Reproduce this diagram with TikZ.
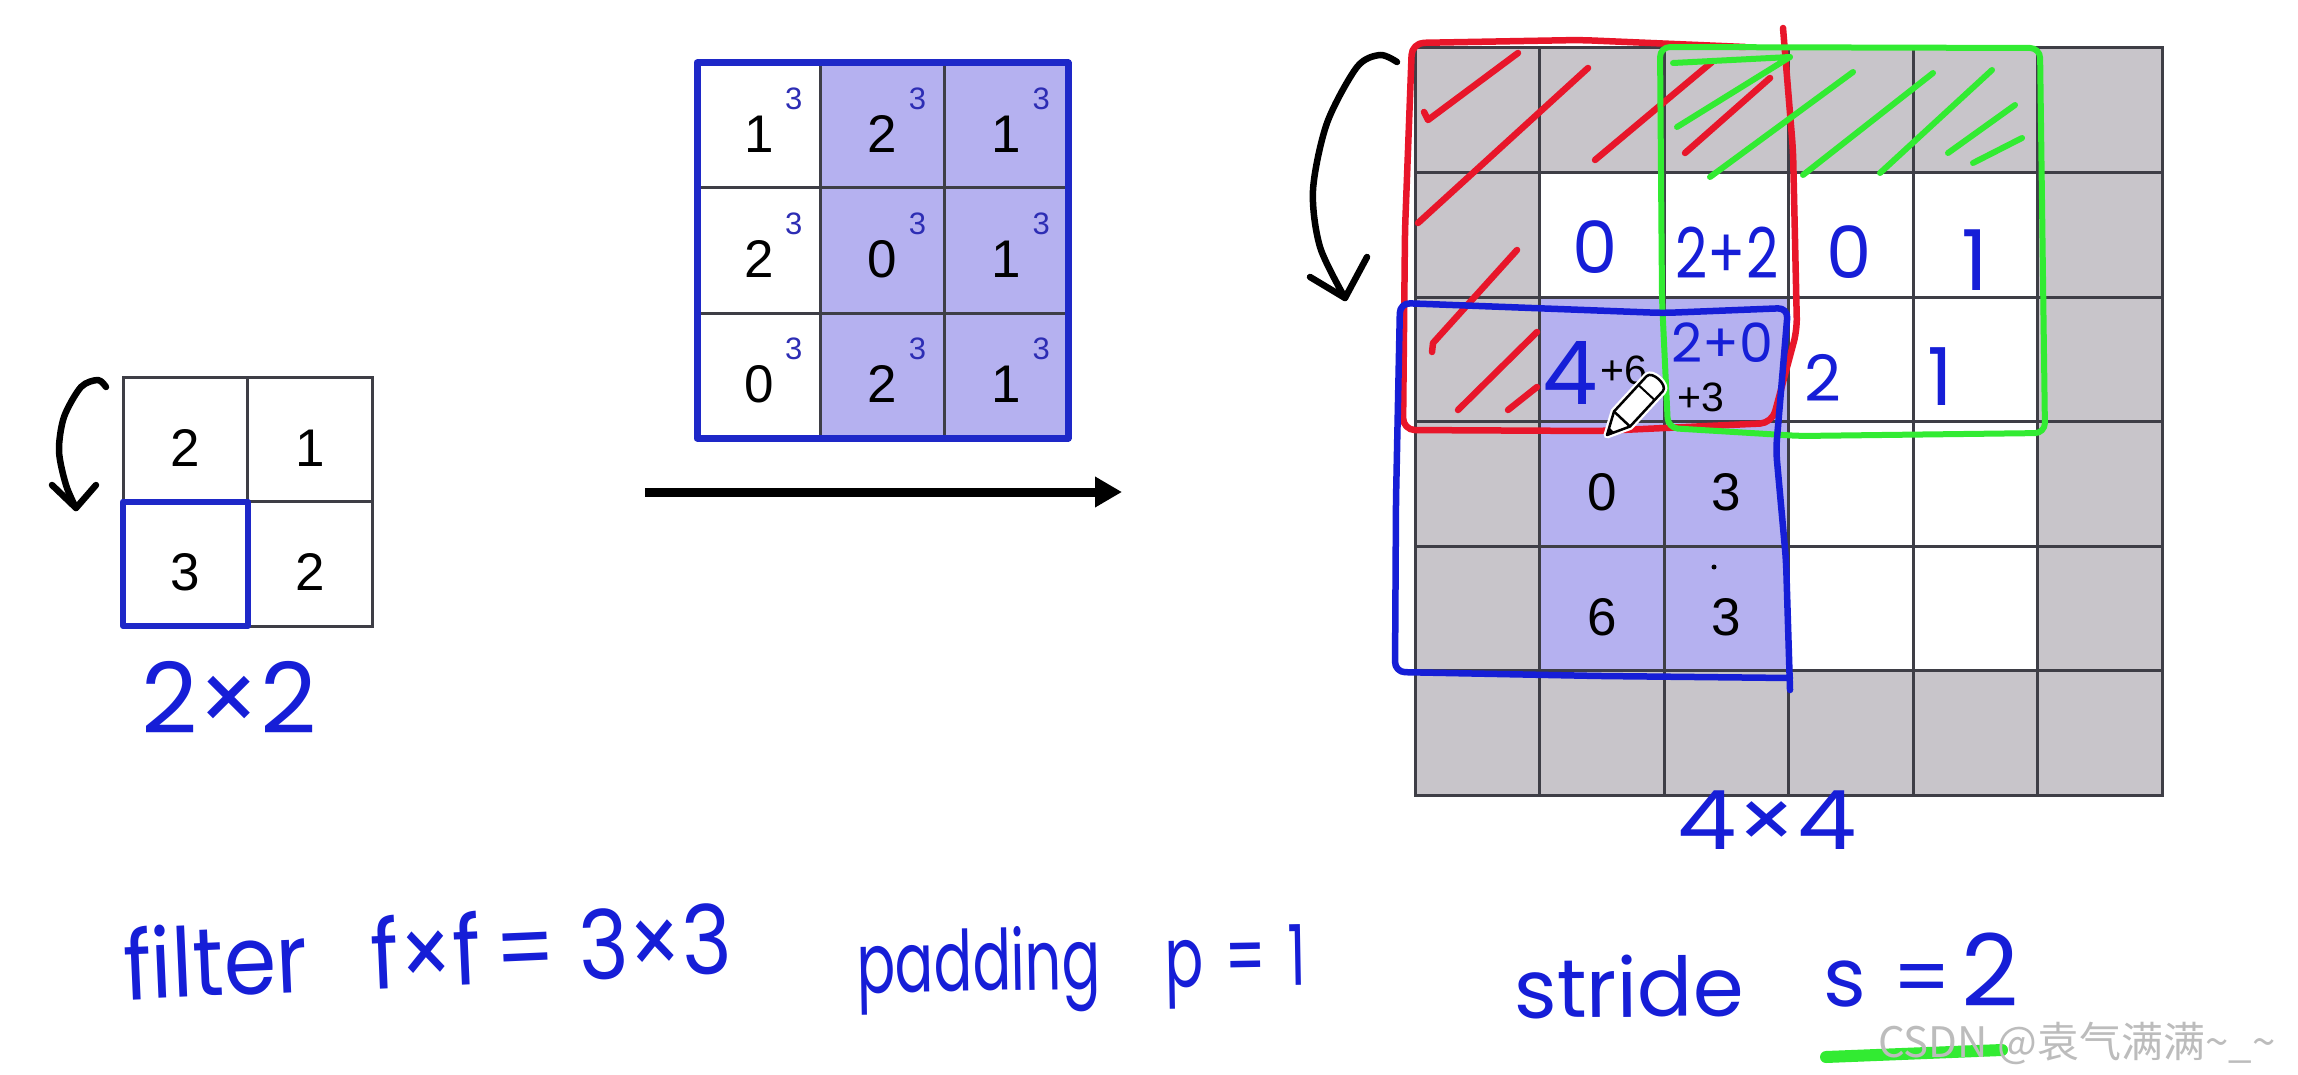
\documentclass[tikz,border=0pt]{standalone}
\usepackage{fontspec}
\usepackage{graphicx}
\setmainfont{Liberation Sans}
\newfontfamily\hand{Poppins}
\newfontfamily\cjk{Noto Sans CJK SC}
\usetikzlibrary{arrows.meta,calc}
\definecolor{padgray}{RGB}{200,197,202}
\definecolor{lav}{RGB}{181,177,240}
\definecolor{gline}{RGB}{62,62,70}
\definecolor{penblue}{RGB}{22,30,215}
\definecolor{boxblue}{RGB}{30,40,200}
\definecolor{supblue}{RGB}{45,45,180}
\definecolor{penred}{RGB}{232,22,42}
\definecolor{pengreen}{RGB}{50,235,50}
\definecolor{wmgray}{RGB}{188,188,188}
\tikzset{
  gl/.style={draw=gline, line width=3pt},
  cellbox/.style={gl, minimum width=124.5pt, minimum height=124.5pt, inner sep=0pt, outer sep=0pt},
  mcell/.style={gl, minimum width=123.7pt, minimum height=125pt, inner sep=0pt, outer sep=0pt},
  pnum/.style={font=\fontsize{53}{53}\selectfont, text height=54pt, text depth=0pt, text=black},
  supn/.style={font=\fontsize{31}{31}\selectfont, text=supblue, inner sep=0pt},
  smalln/.style={font=\fontsize{41}{41}\selectfont, text=black, inner sep=0pt},
  hw/.style={text=penblue, inner sep=0pt},
  redpen/.style={draw=penred, line width=6.5pt, line cap=round, line join=round},
  greenpen/.style={draw=pengreen, line width=6pt, line cap=round, line join=round},
  bluepen/.style={draw=penblue, line width=6.5pt, line cap=round, line join=round},
  blackpen/.style={draw=black, line width=6.5pt, line cap=round, line join=round},
}
\newcommand{\hf}[1]{\hand\fontsize{#1}{#1}\selectfont}
\begin{document}
\begin{tikzpicture}[x=1pt,y=-1pt]
\useasboundingbox (0,0) rectangle (2298,1075);
\fill[white] (0,0) rectangle (2298,1075);

% ---------- left 2x2 output ----------
\node[cellbox,pnum] (L00) at (185.25,439.25) {2};
\node[cellbox,pnum] (L01) at (309.75,439.25) {1};
\node[cellbox,pnum] (L10) at (185.25,563.75) {3};
\node[cellbox,pnum] (L11) at (309.75,563.75) {2};
\draw[draw=boxblue, line width=6pt, line join=round] (L10.south west) rectangle (L10.north east);
\node[hw, font=\hf{98}] (lab22) at (229,697) {2×2};
\coordinate (la0) at (106,387);
\coordinate (la1) at (76,508);
\draw[blackpen] plot[smooth] coordinates {(la0) (98,380) (81,387) (64,417) (59,451) (66,485) (la1)};
\draw[blackpen] (52,485) -- (la1) -- (96,485);

% ---------- middle 3x3 filter ----------
\foreach \r/\y in {0/125.5,1/250.5,2/375.5}{
  \foreach \c/\x in {0/758.85,1/882.55,2/1006.25}{
    \ifnum\c=0 \def\fc{white}\else\def\fc{lav}\fi
    \node[mcell, fill=\fc] (M\r\c) at (\x,\y) {};
    \node[supn] (S\r\c) at ($(M\r\c.center)+(35,-27)$) {3};
  }
}
\node[pnum] (m00) at (M00) {1};
\node[pnum] (m01) at (M01) {2};
\node[pnum] (m02) at (M02) {1};
\node[pnum] (m10) at (M10) {2};
\node[pnum] (m11) at (M11) {0};
\node[pnum] (m12) at (M12) {1};
\node[pnum] (m20) at (M20) {0};
\node[pnum] (m21) at (M21) {2};
\node[pnum] (m22) at (M22) {1};
\draw[draw=boxblue, line width=7pt, line join=round] (M00.north west) rectangle (M22.south east);

% ---------- arrow ----------
\coordinate (ha) at (645,492);
\coordinate (hb) at (1122,492);
\draw[line width=9pt, -{Triangle[length=27pt, width=29pt]}] (ha) -- (hb);

% ---------- right 6x6 padded input ----------
\foreach \r in {0,...,5}{
  \foreach \c in {0,...,5}{
    \def\fc{padgray}
    \ifnum\r>0 \ifnum\r<5 \ifnum\c>0 \ifnum\c<5 \def\fc{white}\fi\fi\fi\fi
    \ifnum\r>1 \ifnum\r<5 \ifnum\c>0 \ifnum\c<3 \def\fc{lav}\fi\fi\fi\fi
    \node[cellbox, fill=\fc] (R\r\c) at ({1477.25+124.5*\c},{110.25+124.5*\r}) {};
  }
}
\node[pnum] (n31) at (R31) {0};
\node[pnum] (n32) at (R32) {3};
\node[pnum] (n41) at (R41) {6};
\node[pnum] (n42) at (R42) {3};
\fill (1714,567) circle (2.5);
\node[smalln] (p6) at (1624,370) {+6};
\node[smalln] (p3) at (1701,397) {+3};

% handwritten values
\node[hw, font=\hf{72}] (h11) at (1595,247) {0};
\node[hw, font=\hf{70}] (h12) at (1727,253) {\scalebox{0.8}[1]{2+2}};
\node[hw, font=\hf{72}] (h13) at (1849,252) {0};
\node[hw, font=\hf{84}] (h14) at (1975,260) {1};
\node[hw, font=\hf{88}] (h21) at (1570,373) {4};
\node[hw, font=\hf{54}] (h22) at (1722,343) {2+0};
\node[hw, font=\hf{64}] (h23) at (1823,378) {2};
\node[hw, font=\hf{80}] (h24) at (1940,377) {1};
\node[hw, font=\hf{82}] (lab44) at (1767,820) {\scalebox{1.15}[1]{4×4}};

% red window
\draw[redpen, rounded corners=12pt] (1745,47) -- (1580,40) -- (1412,43) -- (1405,230) -- (1403,430) -- (1600,431) -- (1772,423) -- (1797,330) -- (1793,150) -- (1783,28);
\draw[redpen] (1424,112) -- (1428,120) -- (1518,53);
\draw[redpen] (1418,223) -- (1588,68);
\draw[redpen] (1595,160) -- (1712,62);
\draw[redpen] (1685,153) -- (1770,78);
\draw[redpen] (1517,250) -- (1433,343) -- (1432,352);
\draw[redpen] (1458,410) -- (1537,332);
\draw[redpen] (1508,410) -- (1537,387);

% green window
\draw[greenpen, rounded corners=10pt] (1660,47) -- (2040,48) -- (2045,433) -- (1800,436) -- (1668,428) -- (1662,300) -- cycle;
\draw[greenpen] (1673,63) -- (1790,57) -- (1677,127);
\draw[greenpen] (1710,177) -- (1853,72);
\draw[greenpen] (1803,175) -- (1933,73);
\draw[greenpen] (1880,173) -- (1992,70);
\draw[greenpen] (1948,153) -- (2015,105);
\draw[greenpen] (1973,163) -- (2022,138);

% blue window
\draw[bluepen, rounded corners=10pt] (1790,690) -- (1786,560) -- (1776,450) -- (1788,308) -- (1663,313) -- (1400,303) -- (1396,500) -- (1395,672) -- (1600,676) -- (1790,678);

% curved arrow
\coordinate (ra0) at (1397,62);
\coordinate (ra1) at (1345,298);
\draw[blackpen] plot[smooth] coordinates {(ra0) (1380,55) (1357,67) (1327,123) (1313,190) (1320,247) (ra1)};
\draw[blackpen] (1310,277) -- (ra1) -- (1367,257);

% pencil cursor
\begin{scope}
\draw[white, line width=7pt, line join=round] (1607,435) -- (1630,426.5) -- (1662.8,391.2) .. controls (1668.2,385.3) and (1652,370.3) .. (1646.6,376.2) -- (1614,411.5) -- cycle;
\draw[black, fill=white, line width=2.5pt, line join=round] (1607,435) -- (1630,426.5) -- (1662.8,391.2) .. controls (1668.2,385.3) and (1652,370.3) .. (1646.6,376.2) -- (1614,411.5) -- cycle;
\draw[black, line width=2.5pt] (1630,426.5) -- (1614,411.5);
\draw[black, line width=2pt] (1654.6,400) -- (1638.4,385);
\fill[black] (1607,435) -- (1614.4,432.3) -- (1609.2,427.5) -- cycle;
\end{scope}

% ---------- bottom notes ----------
\node[hw, anchor=base west, rotate=2.5, font=\hf{96}] (filt) at (125,1000)
  {\scalebox{0.88}[1]{filter\hspace{72pt}f×f\hspace{16pt}=\hspace{26pt}3×3}};
\node[hw, anchor=base west, rotate=1, font=\hf{84}] (padd) at (857,993)
  {\scalebox{0.68}[1]{padding\hspace{95pt}p\hspace{32pt}=\hspace{32pt}1}};
\node[hw, anchor=base west, rotate=0.5, font=\hf{82}] (strd) at (1514,1018) {stride};
\node[hw, anchor=base west, font=\hf{82}, text depth=0pt] (sval) at (1823,1006)
  {s\hspace{26pt}=\hspace{10pt}{\fontsize{100}{100}\selectfont 2}};
\coordinate (u0) at (1826,1057);
\coordinate (u1) at (2002,1050);
\draw[draw=pengreen, line width=12pt, line cap=round] (u0) -- (u1);

% watermark
\node[anchor=base west, inner sep=0pt, text=wmgray, font=\cjk\fontsize{42}{42}\selectfont] (wmk) at (1878,1057)
  {CSDN @袁气满满\textasciitilde\_\textasciitilde};
\end{tikzpicture}
\end{document}
